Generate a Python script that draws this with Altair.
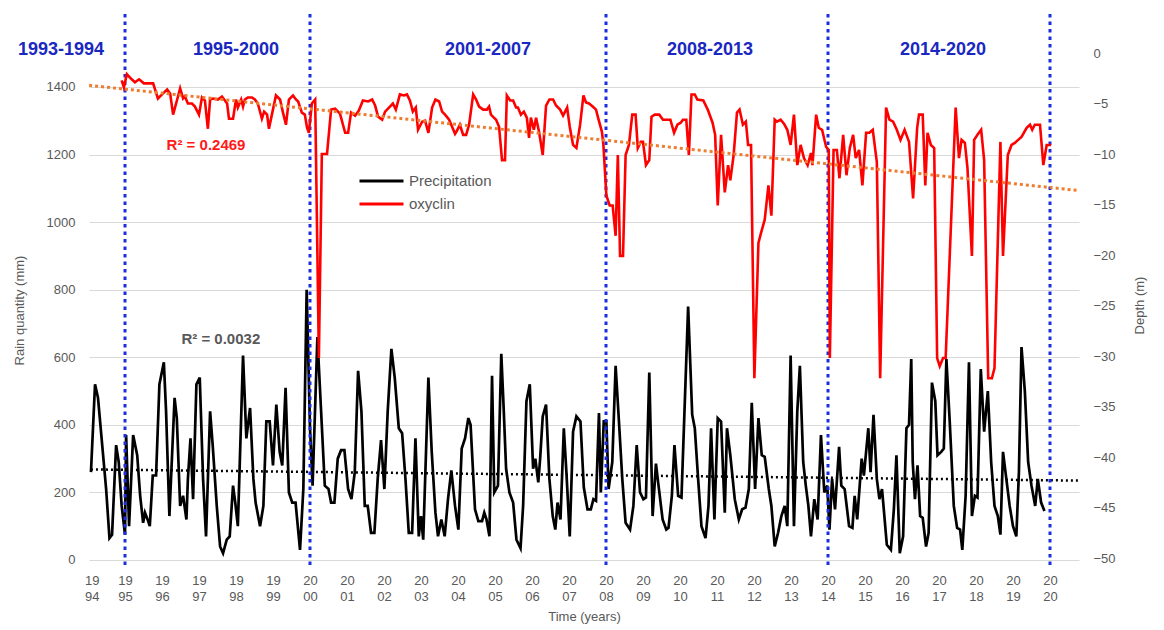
import altair as alt
import pandas as pd

# ---------------- data ----------------
precip_years = [
    1994.08, 1994.19, 1994.27, 1994.49, 1994.58, 1994.65, 1994.76, 1994.83, 1994.91, 1995.00,
    1995.03, 1995.11, 1995.22, 1995.33, 1995.41, 1995.49, 1995.54, 1995.61, 1995.67, 1995.75,
    1995.84, 1995.93, 1996.05, 1996.11, 1996.20, 1996.34, 1996.40, 1996.49, 1996.57, 1996.66,
    1996.70, 1996.77, 1996.84, 1996.93, 1997.02, 1997.11, 1997.19, 1997.30, 1997.37, 1997.48,
    1997.57, 1997.65, 1997.75, 1997.83, 1997.92, 1997.98, 1998.05, 1998.19, 1998.28, 1998.38,
    1998.47, 1998.53, 1998.65, 1998.74, 1998.82, 1998.91, 1999.00, 1999.09, 1999.18, 1999.25,
    1999.34, 1999.43, 1999.52, 1999.61, 1999.73, 1999.82, 1999.91, 2000.00, 2000.07, 2000.20,
    2000.30, 2000.40, 2000.50, 2000.57, 2000.66, 2000.75, 2000.84, 2000.93, 2001.03, 2001.12,
    2001.21, 2001.30, 2001.39, 2001.48, 2001.56, 2001.65, 2001.74, 2001.83, 2001.92, 2002.01,
    2002.10, 2002.20, 2002.29, 2002.40, 2002.49, 2002.58, 2002.67, 2002.76, 2002.85, 2002.94,
    2003.00, 2003.06, 2003.20, 2003.29, 2003.39, 2003.46, 2003.55, 2003.64, 2003.73, 2003.82,
    2003.92, 2004.01, 2004.10, 2004.19, 2004.28, 2004.34, 2004.46, 2004.55, 2004.65, 2004.71,
    2004.77, 2004.85, 2004.92, 2004.98, 2005.08, 2005.17, 2005.23, 2005.30, 2005.39, 2005.49,
    2005.58, 2005.69, 2005.76, 2005.85, 2005.94, 2006.03, 2006.09, 2006.17, 2006.22, 2006.29,
    2006.38, 2006.47, 2006.56, 2006.63, 2006.69, 2006.77, 2006.86, 2006.93, 2007.02, 2007.11,
    2007.20, 2007.31, 2007.40, 2007.50, 2007.59, 2007.66, 2007.73, 2007.81, 2007.86, 2007.94,
    2008.01, 2008.07, 2008.17, 2008.26, 2008.35, 2008.44, 2008.53, 2008.65, 2008.74, 2008.83,
    2008.92, 2009.01, 2009.08, 2009.17, 2009.26, 2009.35, 2009.42, 2009.53, 2009.63, 2009.69,
    2009.78, 2009.85, 2009.95, 2010.04, 2010.22, 2010.33, 2010.40, 2010.49, 2010.58, 2010.69,
    2010.77, 2010.84, 2010.93, 2011.02, 2011.11, 2011.21, 2011.27, 2011.36, 2011.48, 2011.59,
    2011.68, 2011.77, 2011.86, 2011.94, 2012.03, 2012.12, 2012.21, 2012.29, 2012.40, 2012.47,
    2012.56, 2012.65, 2012.74, 2012.83, 2012.90, 2012.99, 2013.08, 2013.17, 2013.24, 2013.33,
    2013.40, 2013.47, 2013.54, 2013.63, 2013.72, 2013.81, 2013.90, 2013.98, 2014.04, 2014.11,
    2014.19, 2014.30, 2014.36, 2014.45, 2014.57, 2014.66, 2014.72, 2014.79, 2014.91, 2014.97,
    2015.09, 2015.15, 2015.23, 2015.32, 2015.39, 2015.46, 2015.50, 2015.59, 2015.70, 2015.78,
    2015.85, 2015.94, 2016.03, 2016.12, 2016.19, 2016.25, 2016.29, 2016.35, 2016.42, 2016.49,
    2016.56, 2016.65, 2016.72, 2016.81, 2016.90, 2016.96, 2017.06, 2017.13, 2017.20, 2017.29,
    2017.40, 2017.49, 2017.57, 2017.63, 2017.72, 2017.81, 2017.89, 2017.97, 2018.04, 2018.13,
    2018.22, 2018.32, 2018.41, 2018.50, 2018.59, 2018.66, 2018.73, 2018.82, 2018.91, 2019.00,
    2019.09, 2019.16, 2019.23, 2019.32, 2019.41, 2019.50, 2019.60, 2019.67, 2019.76, 2019.85,
]
precip_mm = [
    260, 520, 480, 210, 65, 75, 340, 290, 160, 75,
    370, 100, 370, 310, 190, 110, 140, 120, 100, 250,
    250, 520, 585, 440, 130, 480, 420, 160, 190, 120,
    240, 360, 180, 520, 540, 240, 70, 440, 340, 160,
    40, 20, 60, 70, 220, 170, 100, 605, 360, 450,
    240, 170, 100, 160, 410, 410, 280, 460, 320, 280,
    510, 200, 170, 170, 30, 210, 800, 390, 220, 660,
    440, 220, 210, 170, 170, 300, 325, 325, 210, 180,
    260, 560, 440, 160, 160, 80, 80, 240, 355, 210,
    440, 625, 540, 390, 375, 240, 80, 80, 360, 70,
    130, 60, 540, 320, 140, 70, 120, 70, 180, 265,
    160, 90, 330, 360, 420, 400, 150, 115, 115, 140,
    120, 70, 545, 200, 220, 610, 460, 270, 200, 170,
    60, 35, 160, 470, 520, 270, 300, 230, 300, 425,
    460, 240, 130, 90, 170, 120, 390, 260, 70, 380,
    425, 410, 215, 150, 150, 180, 175, 435, 200, 410,
    410, 210, 290, 575, 410, 240, 110, 90, 160, 340,
    200, 180, 185, 555, 130, 285, 220, 120, 90, 95,
    190, 340, 190, 185, 750, 430, 390, 240, 100, 65,
    160, 390, 120, 420, 410, 140, 390, 310, 180, 120,
    150, 155, 210, 465, 210, 420, 310, 305, 210, 160,
    40, 80, 130, 160, 100, 605, 100, 440, 575, 290,
    220, 160, 70, 180, 120, 370, 200, 220, 90, 240,
    150, 335, 220, 210, 100, 95, 190, 120, 300, 250,
    390, 260, 430, 240, 180, 210, 160, 45, 30, 150,
    310, 20, 70, 390, 400, 595, 290, 180, 280, 130,
    125, 40, 80, 525, 470, 310, 320, 330, 595, 410,
    160, 95, 90, 30, 190, 585, 130, 190, 185, 565,
    380, 500, 290, 160, 130, 75, 320, 240, 160, 100,
    70, 260, 630, 500, 290, 220, 160, 240, 170, 145,
]

oxy_years = [
    1994.91, 1994.97, 1995.05, 1995.18, 1995.27, 1995.38, 1995.51, 1995.76, 1995.89, 1996.03,
    1996.14, 1996.22, 1996.30, 1996.41, 1996.49, 1996.57, 1996.62, 1996.70, 1996.81, 1996.89,
    1997.00, 1997.08, 1997.16, 1997.24, 1997.30, 1997.38, 1997.51, 1997.62, 1997.76, 1997.81,
    1997.92, 1998.00, 1998.05, 1998.14, 1998.19, 1998.24, 1998.32, 1998.43, 1998.51, 1998.59,
    1998.70, 1998.76, 1998.84, 1998.89, 1998.97, 1999.08, 1999.19, 1999.27, 1999.35, 1999.43,
    1999.54, 1999.62, 1999.68, 1999.78, 1999.86, 1999.92, 1999.97, 2000.05, 2000.14, 2000.24,
    2000.32, 2000.46, 2000.57, 2000.68, 2000.81, 2000.95, 2001.03, 2001.11, 2001.22, 2001.32,
    2001.43, 2001.57, 2001.68, 2001.76, 2001.84, 2001.95, 2002.03, 2002.16, 2002.24, 2002.32,
    2002.43, 2002.54, 2002.62, 2002.70, 2002.78, 2002.86, 2002.92, 2003.03, 2003.11, 2003.20,
    2003.30, 2003.39, 2003.49, 2003.57, 2003.65, 2003.76, 2003.84, 2003.92, 2003.97, 2004.05,
    2004.14, 2004.22, 2004.30, 2004.41, 2004.49, 2004.57, 2004.68, 2004.78, 2004.84, 2004.89,
    2004.97, 2005.03, 2005.11, 2005.19, 2005.27, 2005.32, 2005.41, 2005.49, 2005.57, 2005.62,
    2005.70, 2005.78, 2005.86, 2005.92, 2005.97, 2006.05, 2006.11, 2006.19, 2006.29, 2006.38,
    2006.47, 2006.57, 2006.65, 2006.76, 2006.84, 2006.95, 2007.02, 2007.11, 2007.20, 2007.30,
    2007.39, 2007.46, 2007.54, 2007.64, 2007.73, 2007.80, 2007.89, 2007.93, 2008.01, 2008.10,
    2008.18, 2008.26, 2008.32, 2008.38, 2008.46, 2008.53, 2008.62, 2008.71, 2008.80, 2008.86,
    2008.94, 2009.00, 2009.08, 2009.17, 2009.23, 2009.32, 2009.44, 2009.54, 2009.65, 2009.74,
    2009.84, 2009.93, 2010.02, 2010.08, 2010.17, 2010.24, 2010.31, 2010.40, 2010.47, 2010.63,
    2010.75, 2010.88, 2010.95, 2011.02, 2011.11, 2011.21, 2011.30, 2011.36, 2011.45, 2011.54,
    2011.61, 2011.70, 2011.78, 2011.84, 2011.92, 2012.01, 2012.12, 2012.19, 2012.29, 2012.39,
    2012.47, 2012.56, 2012.62, 2012.72, 2012.81, 2012.90, 2012.99, 2013.08, 2013.17, 2013.26,
    2013.35, 2013.45, 2013.54, 2013.58, 2013.68, 2013.75, 2013.84, 2013.95, 2014.02, 2014.05,
    2014.15, 2014.24, 2014.31, 2014.41, 2014.50, 2014.59, 2014.68, 2014.75, 2014.84, 2014.93,
    2015.03, 2015.12, 2015.21, 2015.32, 2015.41, 2015.57, 2015.66, 2015.76, 2015.86, 2015.96,
    2016.07, 2016.19, 2016.30, 2016.41, 2016.46, 2016.56, 2016.63, 2016.69, 2016.78, 2016.87,
    2016.95, 2017.02, 2017.11, 2017.18, 2017.45, 2017.54, 2017.61, 2017.70, 2017.77, 2017.89,
    2017.95, 2018.04, 2018.14, 2018.22, 2018.33, 2018.43, 2018.50, 2018.66, 2018.73, 2018.86,
    2018.96, 2019.05, 2019.14, 2019.23, 2019.37, 2019.46, 2019.52, 2019.59, 2019.73, 2019.82,
    2019.91, 2020.03,
]
oxy_depth = [
    -2.7, -3.4, -2.1, -2.6, -2.9, -2.6, -3.0, -3.0, -4.5, -4.0,
    -3.6, -4.0, -6.1, -4.6, -3.5, -4.5, -4.3, -5.0, -5.0, -5.3,
    -6.1, -4.4, -4.7, -7.5, -4.6, -4.5, -4.6, -4.3, -5.0, -6.5,
    -6.5, -4.6, -5.4, -4.6, -5.3, -4.6, -4.4, -4.4, -4.6, -5.0,
    -6.5, -5.8, -6.1, -7.5, -6.1, -4.2, -4.6, -5.9, -7.1, -4.6,
    -4.2, -4.6, -4.8, -5.9, -6.1, -7.4, -7.9, -5.0, -4.6, -30.2,
    -10.0, -10.0, -5.6, -5.5, -6.0, -7.9, -7.9, -5.9, -6.2, -5.7,
    -4.7, -4.8, -4.6, -5.2, -6.3, -6.6, -5.8, -5.3, -5.0, -5.6,
    -4.1, -4.2, -4.1, -4.7, -5.8, -5.4, -7.6, -6.8, -6.7, -7.9,
    -5.4, -4.6, -4.8, -5.8, -6.1, -6.6, -7.3, -8.0, -7.7, -7.1,
    -8.1, -8.1, -7.1, -4.1, -4.6, -5.3, -5.6, -5.6, -5.3, -6.1,
    -6.4, -6.6, -7.3, -10.6, -10.6, -4.2, -4.7, -4.7, -5.4, -5.4,
    -6.1, -5.8, -6.4, -8.4, -6.4, -7.6, -6.4, -7.8, -10.1, -5.2,
    -4.6, -4.6, -5.2, -5.6, -6.2, -5.4, -7.3, -9.1, -9.4, -7.1,
    -4.2, -4.9, -5.0, -5.3, -5.6, -6.6, -7.8, -9.1, -14.1, -15.1,
    -15.1, -18.1, -10.1, -20.1, -20.1, -10.1, -9.1, -6.1, -6.1, -9.4,
    -8.8, -8.8, -11.1, -10.6, -6.3, -6.1, -6.1, -6.6, -6.6, -6.6,
    -7.9, -7.1, -6.9, -6.6, -6.6, -10.1, -4.1, -4.1, -4.6, -4.7,
    -5.6, -6.9, -8.1, -15.1, -8.1, -13.8, -11.1, -12.6, -10.1, -5.9,
    -5.6, -7.1, -6.8, -9.1, -9.1, -32.2, -18.8, -17.8, -16.5, -13.1,
    -16.1, -6.6, -6.8, -6.6, -7.0, -7.6, -9.1, -6.1, -11.1, -9.1,
    -10.4, -11.1, -9.9, -11.1, -6.1, -7.4, -7.6, -9.3, -9.6, -30.2,
    -9.6, -9.6, -12.4, -8.1, -12.1, -9.4, -8.1, -10.4, -9.6, -13.1,
    -7.9, -7.9, -7.6, -10.8, -32.2, -5.4, -6.6, -6.8, -7.6, -8.6,
    -7.6, -8.8, -14.4, -7.4, -6.1, -6.1, -13.1, -7.9, -9.1, -9.4,
    -30.2, -31.0, -30.2, -30.2, -5.4, -10.4, -8.6, -8.9, -11.4, -20.1,
    -8.6, -8.1, -7.6, -10.6, -32.2, -32.2, -31.2, -8.8, -20.1, -10.1,
    -9.1, -8.9, -8.6, -8.3, -7.4, -7.1, -7.6, -7.1, -7.1, -11.1,
    -9.1, -9.1,
]

# linear trend lines (end points)
precip_trend_years = [1994.08, 2020.78]
precip_trend_mm = [268, 235]
oxy_trend_years = [1994.03, 2020.73]
oxy_trend_depth = [-3.2, -13.6]

# period annotations
period_labels = ["1993-1994", "1995-2000", "2001-2007", "2008-2013", "2014-2020"]
period_label_years = [1993.27, 1998.0, 2004.81, 2010.81, 2017.11]
period_label_mm = [1509, 1509, 1509, 1509, 1509]
divider_years = [1995, 2000, 2008, 2014, 2020]

# R² annotations
r2_texts = ["R² = 0.2469", "R² = 0.0032"]
r2_years = [1997.19, 1997.59]
r2_mm = [1228, 654]

# axes
x_tick_values = [1994.1] + list(range(1995, 2021))
rain_ticks = [0, 200, 400, 600, 800, 1000, 1200, 1400]
depth_ticks = [0, -5, -10, -15, -20, -25, -30, -35, -40, -45, -50]
series_names = ["Precipitation", "oxyclin"]
series_colors = ["#000000", "#ff0000"]

# ---------------- tables ----------------
precip_df = pd.DataFrame({"year": precip_years, "mm": precip_mm, "series": series_names[0]})
oxy_df = pd.DataFrame({"year": oxy_years, "depth": oxy_depth, "series": series_names[1]})
ptrend_df = pd.DataFrame({"year": precip_trend_years, "mm": precip_trend_mm})
otrend_df = pd.DataFrame({"year": oxy_trend_years, "depth": oxy_trend_depth})
period_df = pd.DataFrame({"year": period_label_years, "mm": period_label_mm, "label": period_labels})
divider_df = pd.DataFrame({"year": divider_years})
r2_df = pd.DataFrame({"year": r2_years, "mm": r2_mm, "label": r2_texts,
                      "kind": ["oxy", "precip"]})

FONT = "Liberation Sans"
GRAY = "#595959"

X = alt.X(
    "year:Q",
    scale=alt.Scale(domain=[1994.027, 2020.784], nice=False, zero=False),
    axis=alt.Axis(
        values=x_tick_values,
        labelExpr="[substring(toString(round(datum.value)),0,2), substring(toString(round(datum.value)),2,4)]",
        grid=False, domain=False, ticks=False,
        labelFontSize=13, labelColor=GRAY, labelFont=FONT, labelPadding=8,
        labelLineHeight=16, labelAlign="center", labelBaseline="top", labelFlush=False,
        labelOverlap=False,
        title="Time (years)", titleFontSize=13, titleFontWeight="normal",
        titleColor=GRAY, titleFont=FONT, titlePadding=7,
    ),
)

Y_LEFT = alt.Y(
    "mm:Q",
    scale=alt.Scale(domain=[-17.8, 1627.9], nice=False, zero=False),
    axis=alt.Axis(
        values=rain_ticks, format="d", grid=True, gridColor="#d9d9d9", gridWidth=1.2,
        domain=False, ticks=False, labelFontSize=13, labelColor=GRAY, labelFont=FONT,
        labelPadding=14, title="Rain quantity (mm)", titleFontSize=13,
        titleFontWeight="normal", titleColor=GRAY, titleFont=FONT, titlePadding=20,
        titleY=300,
    ),
)

Y_RIGHT = alt.Y(
    "depth:Q",
    scale=alt.Scale(domain=[-50.79, 4.26], nice=False, zero=False),
    axis=alt.Axis(
        orient="right", values=depth_ticks, format="d", grid=False, domain=False, ticks=False,
        labelFontSize=13, labelColor=GRAY, labelFont=FONT, labelPadding=14,
        title="Depth (m)", titleFontSize=13, titleFontWeight="normal", titleColor=GRAY,
        titleFont=FONT, titlePadding=18, titleAngle=-90, titleBaseline="top", titleY=295,
    ),
)

legend = alt.Legend(
    orient="none", legendX=269, legendY=163, title=None, symbolType="stroke",
    symbolSize=1936, symbolStrokeWidth=3, clipHeight=16, rowPadding=7,
    labelFontSize=15, labelColor=GRAY, labelFont=FONT, labelOffset=4, padding=0,
)
COLOR = alt.Color("series:N", scale=alt.Scale(domain=series_names, range=series_colors),
                  legend=legend)

precip_line = alt.Chart(precip_df).mark_line(strokeWidth=2.7).encode(x=X, y=Y_LEFT, color=COLOR)
precip_trend = alt.Chart(ptrend_df).mark_line(
    color="#000000", strokeWidth=2.5, strokeDash=[2, 3]).encode(x=X, y=Y_LEFT)

dividers = alt.Chart(divider_df).mark_rule(
    color="#1a2ee0", strokeWidth=3, strokeDash=[3.5, 4]).encode(
    x=X, y=alt.value(4), y2=alt.value(556))

period_text = alt.Chart(period_df).mark_text(
    font=FONT, fontSize=18, fontWeight="bold", color="#1a27c0",
    align="center", baseline="middle").encode(x=X, y=Y_LEFT, text="label:N")

r2_text = alt.Chart(r2_df).mark_text(
    font=FONT, fontSize=15, fontWeight="bold", align="center", baseline="middle").encode(
    x=X, y=Y_LEFT, text="label:N",
    color=alt.condition(alt.datum.kind == "oxy", alt.value("#ff1a1a"), alt.value(GRAY)))

left = alt.layer(precip_line, precip_trend, dividers, period_text, r2_text)

oxy_line = alt.Chart(oxy_df).mark_line(strokeWidth=2.6).encode(x=X, y=Y_RIGHT, color=COLOR)
oxy_trend = alt.Chart(otrend_df).mark_line(
    color="#ED7D31", strokeWidth=3, strokeDash=[3, 3]).encode(x=X, y=Y_RIGHT)

right = alt.layer(oxy_line, oxy_trend)

chart = (
    alt.layer(left, right)
    .resolve_scale(y="independent")
    .properties(
        width=990, height=556,
        autosize=alt.AutoSizeParams(type="none"),
        padding={"left": 81, "top": 2, "right": 75, "bottom": 60},
        background="white",
    )
    .configure_view(stroke=None)
)

chart.save("out.html", embed_options={"renderer": "svg", "actions": False})
